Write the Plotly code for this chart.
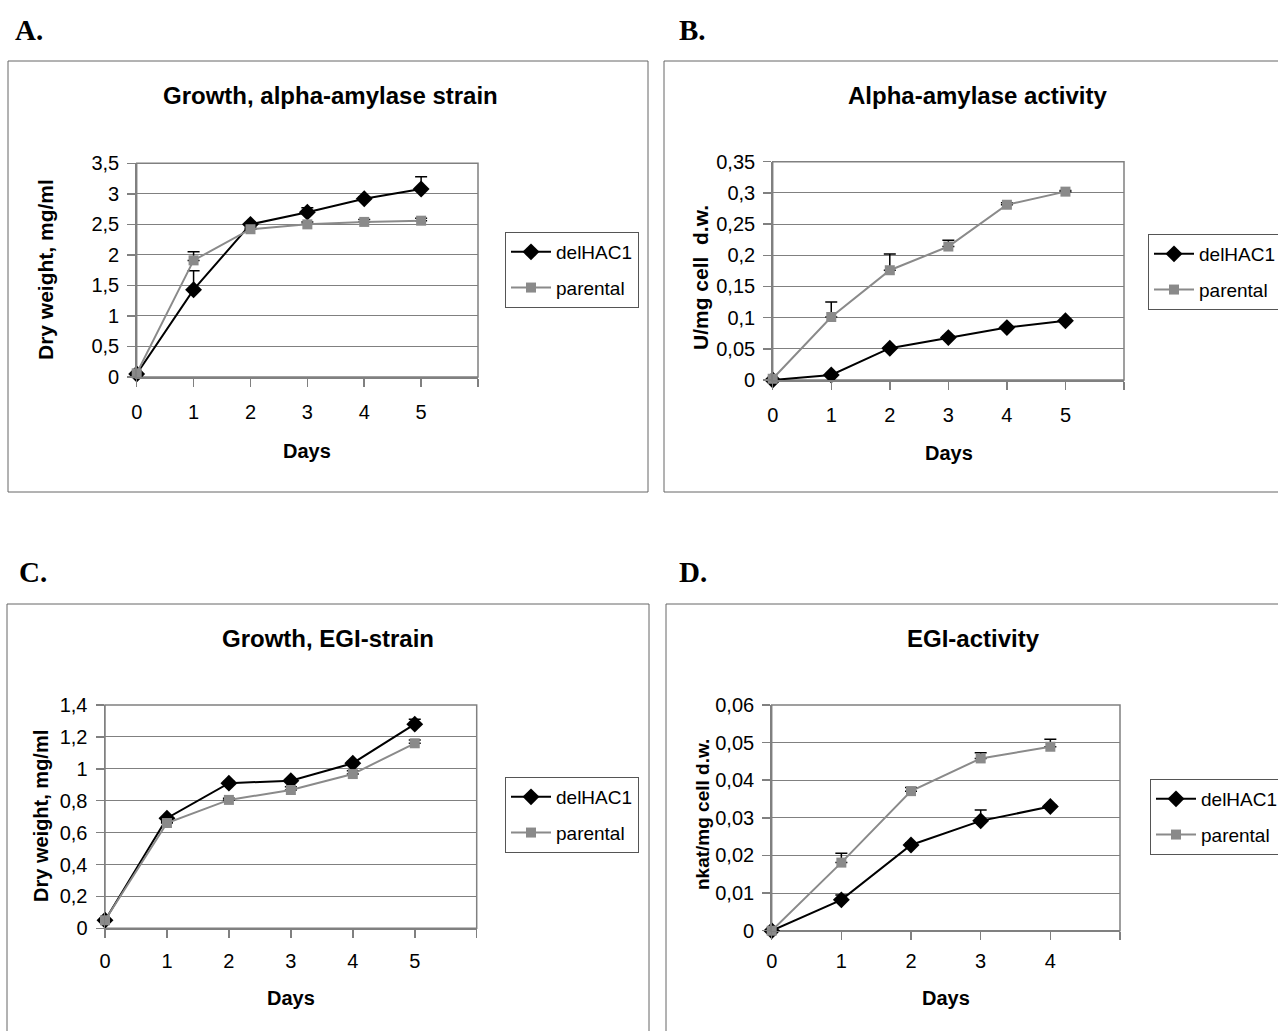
import plotly.graph_objects as go

W, H = 1278, 1031

# ---------------- data ----------------
days = [0, 1, 2, 3, 4, 5]
days_d = [0, 1, 2, 3, 4]

A_del = [0.05, 1.43, 2.50, 2.70, 2.92, 3.08]
A_del_err = [0, 0.31, 0.02, 0.07, 0.03, 0.20]
A_par = [0.06, 1.91, 2.42, 2.50, 2.54, 2.56]
A_par_err = [0, 0.14, 0.02, 0.04, 0.04, 0.04]

B_del = [0.0, 0.008, 0.051, 0.068, 0.084, 0.095]
B_del_err = [0, 0.002, 0.002, 0.003, 0.002, 0.002]
B_par = [0.002, 0.101, 0.176, 0.214, 0.281, 0.302]
B_par_err = [0, 0.024, 0.026, 0.010, 0.003, 0.002]

C_del = [0.05, 0.69, 0.91, 0.925, 1.035, 1.28]
C_del_err = [0, 0.01, 0.01, 0.01, 0.01, 0.03]
C_par = [0.05, 0.66, 0.805, 0.867, 0.967, 1.16]
C_par_err = [0, 0.01, 0.01, 0.02, 0.02, 0.02]

D_del = [0.0, 0.0082, 0.0228, 0.0292, 0.033]
D_del_err = [0, 0.0013, 0.0005, 0.0029, 0.0005]
D_par = [0.0, 0.0181, 0.0371, 0.0458, 0.0489]
D_par_err = [0, 0.0025, 0.001, 0.0015, 0.002]

A_yticks = [0, 0.5, 1, 1.5, 2, 2.5, 3, 3.5]
A_ylabels = ['0', '0,5', '1', '1,5', '2', '2,5', '3', '3,5']
B_yticks = [0, 0.05, 0.1, 0.15, 0.2, 0.25, 0.3, 0.35]
B_ylabels = ['0', '0,05', '0,1', '0,15', '0,2', '0,25', '0,3', '0,35']
C_yticks = [0, 0.2, 0.4, 0.6, 0.8, 1.0, 1.2, 1.4]
C_ylabels = ['0', '0,2', '0,4', '0,6', '0,8', '1', '1,2', '1,4']
D_yticks = [0, 0.01, 0.02, 0.03, 0.04, 0.05, 0.06]
D_ylabels = ['0', '0,01', '0,02', '0,03', '0,04', '0,05', '0,06']

x_ticks6 = [0, 1, 2, 3, 4, 5, 6]
x_labels6 = ['0', '1', '2', '3', '4', '5', '']
x_ticks5 = [0, 1, 2, 3, 4, 5]
x_labels5 = ['0', '1', '2', '3', '4', '']

series_names = ['delHAC1', 'parental']
titles = ['Growth, alpha-amylase strain', 'Alpha-amylase activity',
          'Growth, EGI-strain', 'EGI-activity']
ytitles = ['Dry weight, mg/ml', 'U/mg cell  d.w.', 'Dry weight, mg/ml', 'nkat/mg cell d.w.']
letters = ['A.', 'B.', 'C.', 'D.']

# ---------------- styling helpers ----------------
FONT = 'Liberation Sans, Arial, sans-serif'
BLACK = '#000000'
GRAY = '#8a8a8a'
AXC = '#808080'


def px_x(v):
    return v / W


def px_y(v):
    return 1 - v / H


fig = go.Figure()

panels = [
    dict(x=days, d=A_del, de=A_del_err, p=A_par, pe=A_par_err, ax='', leg='legend'),
    dict(x=days, d=B_del, de=B_del_err, p=B_par, pe=B_par_err, ax='2', leg='legend2'),
    dict(x=days, d=C_del, de=C_del_err, p=C_par, pe=C_par_err, ax='3', leg='legend3'),
    dict(x=days_d, d=D_del, de=D_del_err, p=D_par, pe=D_par_err, ax='4', leg='legend4'),
]

for pn in panels:
    for name, vals, errs, col, sym, size in [
        (series_names[0], pn['d'], pn['de'], BLACK, 'diamond', 13),
        (series_names[1], pn['p'], pn['pe'], GRAY, 'square', 10),
    ]:
        fig.add_trace(go.Scatter(
            x=pn['x'], y=vals, name=name, mode='lines+markers',
            xaxis='x' + pn['ax'], yaxis='y' + pn['ax'],
            line=dict(color=col, width=2),
            marker=dict(color=col, symbol=sym, size=size),
            error_y=dict(type='data', array=errs, symmetric=False,
                         arrayminus=[0] * len(errs), color=BLACK,
                         thickness=1.5, width=6),
            cliponaxis=False, legend=pn['leg'], legendgroup=name + pn['ax'],
            showlegend=True,
        ))

# domains (pixels)
dom = [
    dict(x=(136.7, 478), y=(163.3, 377)),
    dict(x=(772.7, 1124), y=(161.7, 380)),
    dict(x=(105, 476.7), y=(705, 928.3)),
    dict(x=(771.7, 1120), y=(705, 930.7)),
]
yranges = [(0, 3.5), (0, 0.35), (0, 1.4), (0, 0.06)]
ytk = [(A_yticks, A_ylabels), (B_yticks, B_ylabels), (C_yticks, C_ylabels), (D_yticks, D_ylabels)]
xr = [(0, 6), (0, 6), (0, 6), (0, 5)]
xtk = [(x_ticks6, x_labels6)] * 3 + [(x_ticks5, x_labels5)]
xstand = [8, 8, 6, 4]

layout = {}
for i in range(4):
    s = '' if i == 0 else str(i + 1)
    dx, dy = dom[i]['x'], dom[i]['y']
    layout['xaxis' + s] = dict(
        domain=[px_x(dx[0]), px_x(dx[1])], anchor='y' + s, range=list(xr[i]),
        tickmode='array', tickvals=xtk[i][0], ticktext=xtk[i][1],
        showgrid=False, zeroline=False, showline=True, linecolor=AXC, linewidth=1.5,
        ticks='outside', ticklen=8, tickcolor=AXC, tickwidth=1.5,
        tickfont=dict(family=FONT, size=20, color=BLACK), ticklabelstandoff=xstand[i],
        fixedrange=True, automargin=False,
    )
    layout['yaxis' + s] = dict(
        domain=[px_y(dy[1]), px_y(dy[0])], anchor='x' + s, range=list(yranges[i]),
        tickmode='array', tickvals=ytk[i][0], ticktext=ytk[i][1],
        showgrid=True, gridcolor=AXC, gridwidth=1, zeroline=False,
        showline=True, linecolor=AXC, linewidth=1.5,
        ticks='outside', ticklen=8, tickcolor=AXC, tickwidth=1.5,
        tickfont=dict(family=FONT, size=20, color=BLACK), ticklabelstandoff=4,
        fixedrange=True, automargin=False,
    )

legpos = [(505, 232), (1148, 234), (505, 777), (1150, 779)]
for i, (lx, ly) in enumerate(legpos):
    key = 'legend' if i == 0 else 'legend' + str(i + 1)
    layout[key] = dict(
        x=px_x(lx), y=px_y(ly), xanchor='left', yanchor='top',
        bordercolor='#555555', borderwidth=1, bgcolor='white',
        font=dict(family=FONT, size=19, color=BLACK),
        itemwidth=40, tracegroupgap=8, traceorder='grouped',
    )

shapes = []
# panel frames
frames = [(8, 648, 61, 492), (664, 1290, 61, 492), (7, 649, 604, 1040), (666, 1290, 604, 1040)]
for (x0, x1, y0, y1) in frames:
    shapes.append(dict(type='rect', xref='paper', yref='paper',
                       x0=px_x(x0), x1=px_x(x1), y0=px_y(y1), y1=px_y(y0),
                       line=dict(color='#666666', width=1), fillcolor='rgba(0,0,0,0)', layer='below'))
# plot-area borders
for i in range(4):
    s = '' if i == 0 else str(i + 1)
    shapes.append(dict(type='rect', xref='x' + s + ' domain', yref='y' + s + ' domain',
                       x0=0, x1=1, y0=0, y1=1, line=dict(color=AXC, width=1.5),
                       layer='below'))

annotations = []
letter_pos = [(13, 30), (677, 30), (17, 572), (677, 572)]
for t, (lx, ly) in zip(letters, letter_pos):
    annotations.append(dict(text='<b>' + t + '</b>', x=px_x(lx), y=px_y(ly), xref='paper', yref='paper',
                            xanchor='left', yanchor='middle', showarrow=False,
                            font=dict(family='Liberation Serif, Times New Roman, serif', size=29, color=BLACK)))
title_pos = [(330, 95), (977, 95), (328, 638), (973, 638)]
for t, (tx, ty) in zip(titles, title_pos):
    annotations.append(dict(text='<b>' + t + '</b>', x=px_x(tx), y=px_y(ty), xref='paper', yref='paper',
                            xanchor='center', yanchor='middle', showarrow=False,
                            font=dict(family=FONT, size=24, color=BLACK)))
ytitle_pos = [(46, 270, 21), (700, 278, 21), (41, 816, 20), (702, 815, 19)]
for t, (tx, ty, fs) in zip(ytitles, ytitle_pos):
    annotations.append(dict(text='<b>' + t + '</b>', x=px_x(tx), y=px_y(ty), xref='paper', yref='paper',
                            xanchor='center', yanchor='middle', showarrow=False, textangle=-90,
                            font=dict(family=FONT, size=fs, color=BLACK)))
days_pos = [(307, 451), (949, 453), (291, 998), (946, 998)]
for (tx, ty) in days_pos:
    annotations.append(dict(text='<b>Days</b>', x=px_x(tx), y=px_y(ty), xref='paper', yref='paper',
                            xanchor='center', yanchor='middle', showarrow=False,
                            font=dict(family=FONT, size=20, color=BLACK)))

fig.update_layout(
    width=W, height=H, margin=dict(l=0, r=0, t=0, b=0, pad=0, autoexpand=False),
    paper_bgcolor='white', plot_bgcolor='white',
    shapes=shapes, annotations=annotations, **layout,
)

fig.write_html('out.html', config={'displayModeBar': False, 'staticPlot': True},
               post_script="document.body.style.margin='0';document.body.style.overflow='hidden';")
